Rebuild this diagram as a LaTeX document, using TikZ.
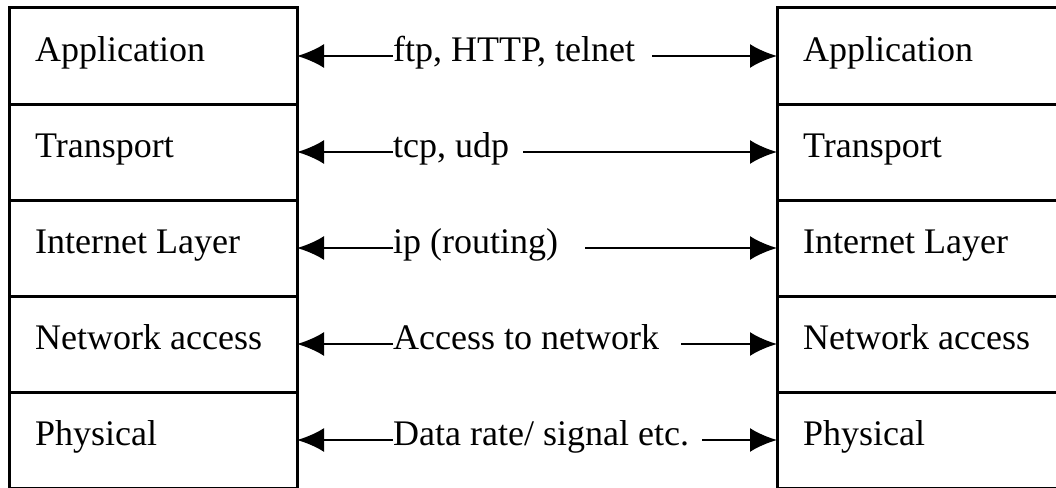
\documentclass[tikz,border=0pt]{standalone}
\usepackage{fontspec}
\setmainfont{Liberation Serif}
\usetikzlibrary{arrows.meta}
\begin{document}
\begin{tikzpicture}[x=1pt,y=-1pt,
  layer/.style={draw, line width=3pt, minimum width=288pt, minimum height=96pt,
    inner sep=0pt, outer sep=0pt},
  lbl/.style={anchor=base west, inner sep=0pt, font=\fontsize{36}{42}\selectfont},
  link/.style={line width=2.6pt, -{Latex[length=27pt,width=24pt]}}]
\useasboundingbox (0,0) rectangle (1056,487);
\clip (0,0) rectangle (1056,487);

% protocol layers, two hosts side by side
\foreach \i/\name [count=\k from 0] in {1/Application,2/Transport,3/Internet Layer,4/Network access,5/Physical}{
  \node[layer] (L\i) at (153,{56+96*\k}) {};
  \node[layer] (R\i) at (921,{56+96*\k}) {};
  \node[lbl] (L\i t) at (35,{61+96*\k}) {\name};
  \node[lbl] (R\i t) at (803,{61+96*\k}) {\name};
}

% peer-to-peer exchange at each layer
\foreach \i/\txt/\rx [count=\k from 0] in {
  1/{ftp, HTTP, telnet}/652,
  2/{tcp, udp}/523,
  3/{ip (routing)}/585,
  4/{Access to network}/681,
  5/{Data rate/ signal etc.}/702}{
  \node[lbl] (M\i) at (393,{61+96*\k}) {\txt};
  \coordinate (S\i) at (\rx,{56+96*\k});
  \draw[link] (M\i.west |- L\i.east) -- (L\i.east);
  \draw[link] (S\i) -- (R\i.west |- S\i);
}
\end{tikzpicture}
\end{document}
